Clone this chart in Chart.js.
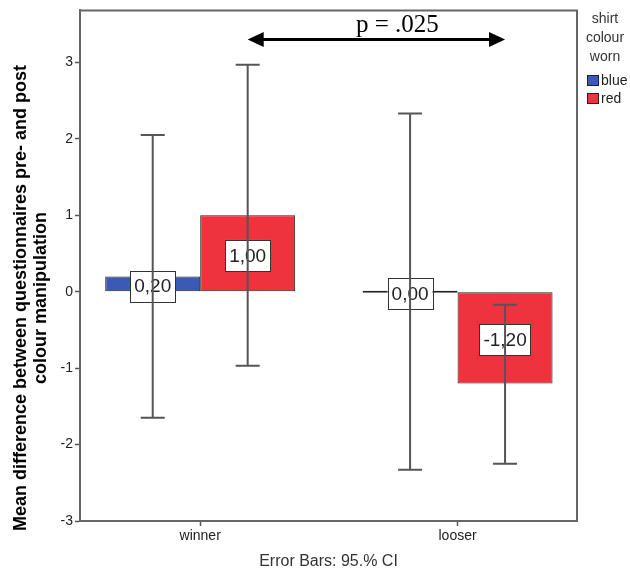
<!DOCTYPE html>
<html>
<head>
<meta charset="utf-8">
<script src="https://cdn.jsdelivr.net/npm/chart.js@4.4.1/dist/chart.umd.min.js"></script>
<style>
  html, body { margin: 0; padding: 0; background: #fff; }
  #wrap { width: 630px; height: 576px; }
</style>
</head>
<body>
<div id="wrap"><canvas id="chart" width="630" height="576"></canvas></div>
<script>
const categories = ["winner", "looser"];
const colourLabels = ["blue", "red"];
const blueMeans = [0.20, 0.00];
const redMeans = [1.00, -1.20];
const blueCiLow = [-1.65, -2.33];
const blueCiHigh = [2.05, 2.33];
const redCiLow = [-0.97, -2.25];
const redCiHigh = [2.97, -0.17];
const yTicks = [-3, -2, -1, 0, 1, 2, 3];
const yTitle = ["Mean difference between questionnaires pre- and post", "colour manipulation"];
const legendTitle = ["shirt", "colour", "worn"];
const xTitle = "Error Bars: 95.% CI";
const pText = "p = .025";
const arrowLevel = 3.30;

const SANS = "'Liberation Sans', Arial, sans-serif";
const barColours = ["#3c5ab5", "#ef333e"];
const ciLow = [blueCiLow, redCiLow];
const ciHigh = [blueCiHigh, redCiHigh];

function fmt(v) {
  return v.toFixed(2).replace(".", ",");
}

const extras = {
  id: "extras",
  afterDraw(chart) {
    const ctx = chart.ctx;
    const area = chart.chartArea;
    const ys = chart.scales.y;
    ctx.save();

    // frame top + right
    ctx.strokeStyle = "#666";
    ctx.lineWidth = 2;
    ctx.beginPath();
    ctx.moveTo(area.left, area.top);
    ctx.lineTo(area.right, area.top);
    ctx.lineTo(area.right, area.bottom);
    ctx.stroke();

    // value boxes
    ctx.font = "19px " + SANS;
    ctx.textAlign = "center";
    ctx.textBaseline = "middle";
    chart.data.datasets.forEach((ds, i) => {
      chart.getDatasetMeta(i).data.forEach((bar, j) => {
        const v = ds.data[j].y;
        const txt = fmt(v);
        const w = ctx.measureText(txt).width + 8;
        const h = 31;
        const cy = (ys.getPixelForValue(v) + ys.getPixelForValue(0)) / 2 + 2;
        ctx.fillStyle = "#fff";
        ctx.fillRect(bar.x - w / 2, cy - h / 2, w, h);
        ctx.strokeStyle = "#333";
        ctx.lineWidth = 1;
        ctx.strokeRect(Math.round(bar.x - w / 2) + 0.5, Math.round(cy - h / 2) + 0.5, Math.round(w), h);
        ctx.fillStyle = "#222";
        ctx.fillText(txt, bar.x, cy + 1);
      });
    });

    // error bars
    ctx.strokeStyle = "#555";
    ctx.lineWidth = 2;
    chart.data.datasets.forEach((ds, i) => {
      chart.getDatasetMeta(i).data.forEach((bar, j) => {
        const top = ys.getPixelForValue(ciHigh[i][j]);
        const bot = ys.getPixelForValue(ciLow[i][j]);
        ctx.beginPath();
        ctx.moveTo(bar.x, top);
        ctx.lineTo(bar.x, bot);
        ctx.moveTo(bar.x - 12, top);
        ctx.lineTo(bar.x + 12, top);
        ctx.moveTo(bar.x - 12, bot);
        ctx.lineTo(bar.x + 12, bot);
        ctx.stroke();
      });
    });

    // significance arrow between red bars
    const reds = chart.getDatasetMeta(1).data;
    const x1 = reds[0].x, x2 = reds[1].x;
    const ay = ys.getPixelForValue(arrowLevel);
    ctx.strokeStyle = "#000";
    ctx.fillStyle = "#000";
    ctx.lineWidth = 3;
    ctx.beginPath();
    ctx.moveTo(x1 + 10, ay);
    ctx.lineTo(x2 - 10, ay);
    ctx.stroke();
    ctx.beginPath();
    ctx.moveTo(x1, ay);
    ctx.lineTo(x1 + 16, ay - 7.5);
    ctx.lineTo(x1 + 16, ay + 7.5);
    ctx.closePath();
    ctx.fill();
    ctx.beginPath();
    ctx.moveTo(x2, ay);
    ctx.lineTo(x2 - 16, ay - 7.5);
    ctx.lineTo(x2 - 16, ay + 7.5);
    ctx.closePath();
    ctx.fill();
    ctx.font = "25px 'Liberation Serif', 'Times New Roman', serif";
    ctx.textAlign = "center";
    ctx.textBaseline = "alphabetic";
    ctx.fillText(pText, (x1 + x2) / 2 + 21, ay - 7);

    // y title
    ctx.save();
    ctx.translate(0, 298);
    ctx.rotate(-Math.PI / 2);
    ctx.font = "bold 18px " + SANS;
    ctx.fillStyle = "#000";
    ctx.textAlign = "center";
    ctx.textBaseline = "middle";
    ctx.fillText(yTitle[0], 0, 21);
    ctx.fillText(yTitle[1], 0, 41);
    ctx.restore();

    // legend
    ctx.font = "14px " + SANS;
    ctx.fillStyle = "#333";
    ctx.textAlign = "center";
    ctx.textBaseline = "middle";
    legendTitle.forEach((t, k) => ctx.fillText(t, 605, 19 + k * 19));
    ctx.textAlign = "left";
    chart.data.datasets.forEach((ds, i) => {
      const ty = 75 + i * 18;
      ctx.fillStyle = ds.backgroundColor;
      ctx.fillRect(587, ty, 12, 11);
      ctx.strokeStyle = "#222";
      ctx.lineWidth = 1;
      ctx.strokeRect(587.5, ty + 0.5, 11, 10);
      ctx.fillStyle = "#222";
      ctx.fillText(ds.label, 601, ty + 6);
    });

    ctx.restore();
  }
};

new Chart(document.getElementById("chart"), {
  type: "bar",
  data: {
    datasets: [
      {
        label: colourLabels[0],
        data: categories.map((c, i) => ({ x: i, y: blueMeans[i] })),
        backgroundColor: barColours[0],
        borderColor: "#222",
        borderWidth: 1,
        borderSkipped: false
      },
      {
        label: colourLabels[1],
        data: categories.map((c, i) => ({ x: i, y: redMeans[i] })),
        backgroundColor: barColours[1],
        borderColor: "#222",
        borderWidth: 1,
        borderSkipped: false
      }
    ]
  },
  options: {
    responsive: false,
    animation: false,
    categoryPercentage: 0.738,
    barPercentage: 1,
    minBarLength: 2,
    layout: { padding: { top: 7, right: 53, left: 0, bottom: 0 } },
    plugins: {
      legend: { display: false },
      tooltip: { enabled: false }
    },
    scales: {
      x: {
        type: "linear",
        min: -0.467,
        max: 1.464,
        offset: false,
        afterBuildTicks: s => { s.ticks = categories.map((c, i) => ({ value: i })); },
        afterFit: s => { s.height = 55; },
        grid: { drawOnChartArea: false, offset: false, tickLength: 5, color: "#555", tickWidth: 1.5 },
        border: { display: true, color: "#666", width: 2 },
        ticks: {
          callback: v => categories[v],
          font: { size: 14, family: SANS },
          color: "#222",
          padding: 2,
          maxRotation: 0
        },
        title: {
          display: true,
          text: xTitle,
          font: { size: 16, family: SANS },
          color: "#333",
          padding: { top: 0, bottom: 5 }
        }
      },
      y: {
        min: -3,
        max: 3.68,
        afterBuildTicks: s => { s.ticks = yTicks.map(v => ({ value: v })); },
        afterFit: s => { s.width = 80; },
        grid: { drawOnChartArea: false, tickLength: 5, color: "#555", tickWidth: 1.5 },
        border: { display: true, color: "#666", width: 2 },
        ticks: {
          font: { size: 14, family: SANS },
          color: "#222",
          padding: 2
        }
      }
    }
  },
  plugins: [extras]
});
</script>
</body>
</html>
